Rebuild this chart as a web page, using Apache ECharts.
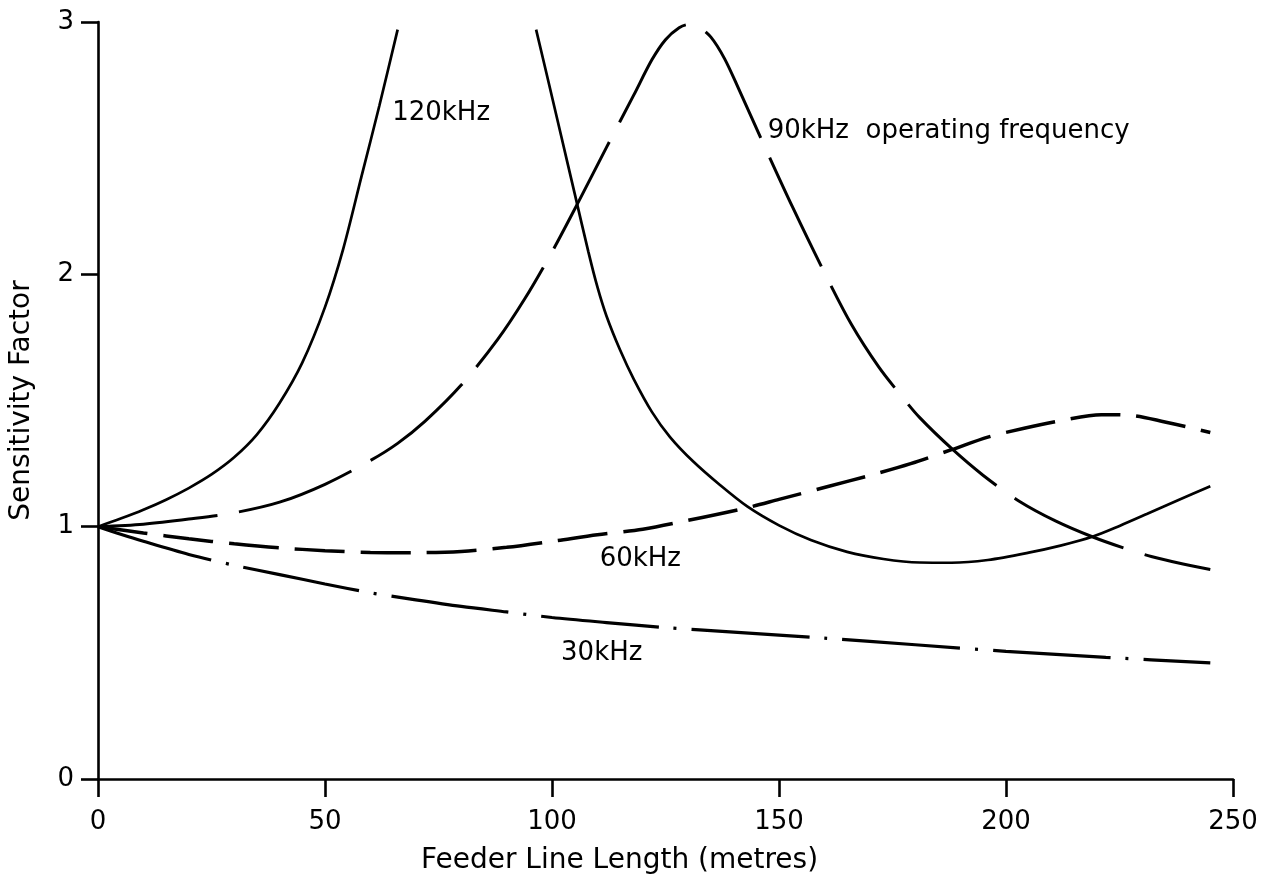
<!DOCTYPE html>
<html>
<head>
<meta charset="utf-8">
<script src="https://cdn.jsdelivr.net/npm/echarts@6/dist/echarts.min.js"></script>
<style>
  html, body { margin: 0; padding: 0; background: #fff; }
  #chart { width: 1277px; height: 886px; }
</style>
</head>
<body>
<div id="chart"></div>
<script>
// feeder line length (m) against sensitivity factor

// 120kHz has a resonance between ~66 m and ~96 m, so it is drawn in two pieces
const x120a = [0, 5, 10, 15, 20, 25, 30, 35, 40, 45, 50, 54, 58, 62, 66];
const y120a = [1.0, 1.032, 1.067, 1.107, 1.153, 1.207, 1.275, 1.365, 1.49, 1.65, 1.87, 2.10, 2.385, 2.67, 2.97];

const x120b = [96.5, 99, 102, 105, 108, 110, 112, 115, 118, 122, 126, 131, 137, 143, 150, 157, 165, 173, 181, 188, 196, 205, 212, 219, 225, 231, 238, 245];
const y120b = [2.97, 2.78, 2.55, 2.32, 2.09, 1.95, 1.835, 1.70, 1.585, 1.455, 1.355, 1.26, 1.165, 1.08, 1.005, 0.947, 0.90, 0.872, 0.858, 0.857, 0.868, 0.897, 0.925, 0.96, 1.003, 1.05, 1.106, 1.16];

const x90 = [0, 10, 20, 30, 40, 50, 60, 66, 72, 80, 88, 94, 100, 106, 112, 118, 122, 125, 128, 130, 132, 135, 138, 141, 147, 153, 160, 166, 172, 177, 181, 188, 195, 203, 211, 219, 226, 232, 239, 245];
const y90 = [1.0, 1.01, 1.03, 1.055, 1.097, 1.168, 1.262, 1.33, 1.417, 1.561, 1.741, 1.903, 2.089, 2.293, 2.503, 2.71, 2.85, 2.93, 2.977, 2.99, 2.985, 2.94, 2.855, 2.74, 2.50, 2.266, 2.007, 1.80, 1.632, 1.517, 1.432, 1.31, 1.203, 1.10, 1.022, 0.96, 0.915, 0.882, 0.852, 0.83];

const x60 = [0, 10, 20, 30, 40, 50, 60, 70, 80, 90, 100, 110, 120, 130, 143, 150, 161, 170, 179, 188, 196, 204, 212, 221, 228, 235, 240, 245];
const y60 = [1.0, 0.975, 0.952, 0.932, 0.916, 0.905, 0.898, 0.897, 0.902, 0.918, 0.942, 0.968, 0.99, 1.025, 1.075, 1.108, 1.16, 1.203, 1.25, 1.305, 1.355, 1.39, 1.42, 1.444, 1.44, 1.415, 1.395, 1.373];

const x30 = [0, 5, 10, 20, 30, 40, 50, 60, 70, 80, 90, 100, 112, 125, 140, 160, 180, 200, 222, 245];
const y30 = [1.0, 0.97, 0.942, 0.89, 0.847, 0.81, 0.773, 0.738, 0.71, 0.684, 0.662, 0.64, 0.62, 0.60, 0.582, 0.558, 0.532, 0.506, 0.482, 0.46];

const xTicks = [0, 250, 50];   // min, max, step
const yTicks = [0, 3, 1];

const curveNames = ['120kHz', '90kHz  operating frequency', '60kHz', '30kHz'];
// where each curve name sits, in data units (left edge, vertical middle)
const labelAnchors = [[64.8, 2.64], [147.5, 2.567], [110.5, 0.869], [102, 0.50]];

const zip = (xs, ys) => xs.map((x, i) => [x, ys[i]]);

const FONT = '"DejaVu Sans", "Liberation Sans", sans-serif';

function curve(name, xs, ys, dash, width) {
  return {
    name: name,
    type: 'line',
    data: zip(xs, ys),
    symbol: 'none',
    smooth: 0.3,
    clip: false,
    silent: true,
    lineStyle: { color: '#000', width: width, type: dash, cap: 'butt' }
  };
}

const chart = echarts.init(document.getElementById('chart'));

const option = {
  animation: false,
  backgroundColor: '#fff',
  grid: { left: 97, right: 44, top: 22, bottom: 107, containLabel: false },
  xAxis: {
    type: 'value',
    min: xTicks[0],
    max: xTicks[1],
    interval: xTicks[2],
    name: 'Feeder Line Length (metres)',
    nameLocation: 'middle',
    nameGap: 68,
    nameTextStyle: { fontSize: 28, fontFamily: FONT, color: '#000', padding: [0, 92, 0, 0] },
    axisLine: { onZero: false, lineStyle: { color: '#000', width: 2.6 } },
    axisTick: { length: 18, lineStyle: { color: '#000', width: 2.6 } },
    axisLabel: { margin: 30, fontSize: 26, fontFamily: FONT, color: '#000' },
    splitLine: { show: false }
  },
  yAxis: {
    type: 'value',
    min: yTicks[0],
    max: yTicks[1],
    interval: yTicks[2],
    name: 'Sensitivity Factor',
    nameLocation: 'middle',
    nameGap: 62,
    nameTextStyle: { fontSize: 28, fontFamily: FONT, color: '#000' },
    axisLine: { onZero: false, lineStyle: { color: '#000', width: 2.6 } },
    axisTick: { length: 17, lineStyle: { color: '#000', width: 2.6 } },
    axisLabel: { margin: 24, fontSize: 26, fontFamily: FONT, color: '#000' },
    splitLine: { show: false }
  },
  series: [
    curve('120kHz', x120a, y120a, 'solid', 2.7),
    curve('120kHz', x120b, y120b, 'solid', 2.7),
    curve('90kHz', x90, y90, [120, 22], 3),
    curve('60kHz', x60, y60, [50, 16], 3.5),
    curve('30kHz', x30, y30, [118, 15, 3, 15], 3.2)
  ]
};

chart.setOption(option);

// curve names as plain text next to the lines
chart.setOption({
  graphic: curveNames.map((t, i) => {
    const p = chart.convertToPixel({ gridIndex: 0 }, labelAnchors[i]);
    return {
      type: 'text',
      x: p[0],
      y: p[1],
      silent: true,
      style: {
        text: t,
        fill: '#000',
        fontSize: 26,
        fontFamily: FONT,
        align: 'left',
        verticalAlign: 'middle'
      }
    };
  })
});
</script>
</body>
</html>
